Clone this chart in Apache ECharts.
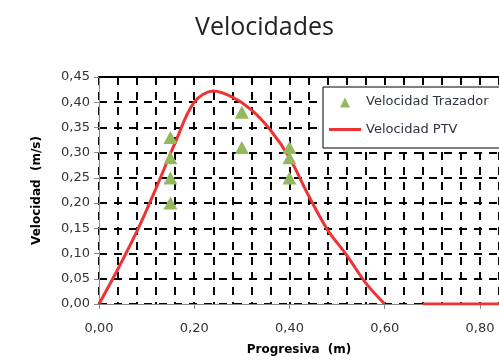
<!DOCTYPE html>
<html>
<head>
<meta charset="utf-8">
<script src="https://cdn.jsdelivr.net/npm/echarts@6/dist/echarts.min.js"></script>
<style>
  html, body { margin: 0; padding: 0; background: #fff; }
  #chart { width: 499px; height: 361px; }
</style>
</head>
<body>
<div id="chart"></div>
<script>
// Velocidad Trazador (puntos medidos)
const trazadorX = [0.15, 0.15, 0.15, 0.15, 0.30, 0.30, 0.40, 0.40, 0.40];
const trazadorY = [0.33, 0.29, 0.25, 0.20, 0.38, 0.31, 0.31, 0.29, 0.25];

// Velocidad PTV (curva), null = hueco
const ptvX = [0, 0.04, 0.08, 0.12, 0.16, 0.20, 0.24, 0.28, 0.32, 0.36, 0.40, 0.44, 0.48, 0.52, 0.56, 0.60,
  0.64, 0.68, 0.76, 0.84];
const ptvY = [0, 0.07, 0.145, 0.23, 0.32, 0.40, 0.422, 0.41, 0.385, 0.345, 0.29, 0.215, 0.147, 0.097, 0.042, 0,
  null, 0, 0, 0];

const fmt = (v) => v.toFixed(2).replace('.', ',');
const gridDash = { color: '#000', width: 2, type: [8, 7] };
// iconos de leyenda con caja ancha (32x12) para que no se estiren
const triIcon = 'path://M0,0M32,12M11,12L16,2L21,12Z';
const lineIcon = 'path://M0,0M32,12M0,4.5L32,4.5L32,7.5L0,7.5Z';

const chart = echarts.init(document.getElementById('chart'));
chart.setOption({
  animation: false,
  backgroundColor: '#fff',
  title: {
    text: 'Velocidades',
    left: 190,
    top: 10,
    textStyle: { fontFamily: 'Open Sans', fontSize: 25, fontWeight: 'normal', color: '#222' },
  },
  legend: {
    orient: 'vertical',
    left: 323,
    top: 87,
    padding: [8, 40, 12, 6],
    itemGap: 15,
    itemWidth: 32,
    itemHeight: 12,
    borderColor: '#000',
    borderWidth: 1,
    backgroundColor: '#fff',
    textStyle: { fontFamily: 'DejaVu Sans', fontSize: 13, color: '#2f3440' },
    data: [
      { name: 'Velocidad Trazador', icon: triIcon },
      { name: 'Velocidad PTV', icon: lineIcon },
    ],
  },
  grid: { left: 99, top: 77, bottom: 57, right: -12 },
  xAxis: [
    {
      type: 'value',
      min: 0,
      max: 0.84,
      interval: 0.2,
      name: 'Progresiva  (m)',
      nameLocation: 'middle',
      nameGap: 40,
      nameTextStyle: { fontFamily: 'DejaVu Sans', fontSize: 12, fontWeight: 'bold', color: '#000' },
      axisLine: { lineStyle: { color: '#888', width: 1 } },
      axisTick: { show: true, length: 5, lineStyle: { color: '#888' } },
      axisLabel: {
        margin: 18,
        fontFamily: 'DejaVu Sans',
        fontSize: 13,
        color: '#333',
        showMaxLabel: false,
        formatter: (v) => (Math.abs(v / 0.2 - Math.round(v / 0.2)) < 1e-6 ? fmt(v) : ''),
      },
      splitLine: { show: true, lineStyle: gridDash },
      minorTick: { show: false, splitNumber: 5 },
      minorSplitLine: { show: true, lineStyle: gridDash },
    },
    {
      type: 'value',
      position: 'top',
      min: 0,
      max: 0.84,
      axisLine: { show: true, lineStyle: { color: '#000', width: 2 } },
      axisTick: { show: false },
      axisLabel: { show: false },
      splitLine: { show: false },
    },
  ],
  yAxis: {
    type: 'value',
    min: 0,
    max: 0.45,
    interval: 0.05,
    name: 'Velocidad  (m/s)',
    nameLocation: 'middle',
    nameGap: 56,
    nameTextStyle: { fontFamily: 'DejaVu Sans', fontSize: 12, fontWeight: 'bold', color: '#000' },
    axisLine: { show: true, lineStyle: { color: '#888', width: 1 } },
    axisTick: { show: true, length: 5, lineStyle: { color: '#888' } },
    axisLabel: { margin: 9, fontFamily: 'DejaVu Sans', fontSize: 13, color: '#333', formatter: fmt },
    splitLine: { show: true, lineStyle: gridDash },
  },
  series: [
    {
      name: 'Velocidad PTV',
      type: 'line',
      smooth: 0.35,
      symbol: 'none',
      connectNulls: false,
      z: 3,
      lineStyle: { color: '#ef3333', width: 3 },
      itemStyle: { color: '#ef3333' },
      data: ptvX.map((x, i) => [x, ptvY[i] === null ? '-' : ptvY[i]]),
    },
    {
      name: 'Velocidad Trazador',
      type: 'scatter',
      symbol: 'triangle',
      symbolSize: [14, 13],
      z: 4,
      itemStyle: { color: '#93b95c', opacity: 1 },
      data: trazadorX.map((x, i) => [x, trazadorY[i]]),
    },
  ],
});
</script>
</body>
</html>
